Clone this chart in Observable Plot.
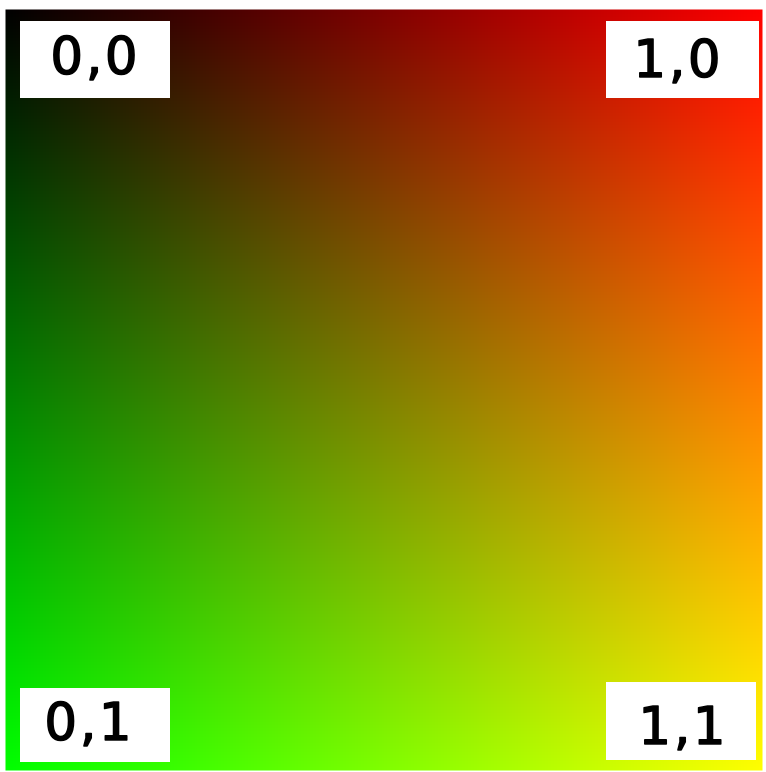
<!DOCTYPE html>
<html>
<head>
<meta charset="utf-8">
<script src="https://cdn.jsdelivr.net/npm/d3@7"></script>
<script src="https://cdn.jsdelivr.net/npm/@observablehq/plot@0.6"></script>
<style>
  html, body { margin: 0; padding: 0; background: #fff; }
  #chart svg text { letter-spacing: 3px; }
</style>
</head>
<body>
<div id="chart"></div>
<script>
// Corner data: position in the unit square and the colour at that corner
const cornerLabels = ["0,0", "1,0", "0,1", "1,1"];
const cornerX = [0, 1, 0, 1];
const cornerY = [0, 0, 1, 1];
const cornerRed = [0, 255, 0, 255];
const cornerGreen = [0, 0, 255, 255];
const cornerBlue = [0, 0, 0, 0];

const corners = cornerLabels.map((label, i) => ({
  label, x: cornerX[i], y: cornerY[i],
  r: cornerRed[i], g: cornerGreen[i], b: cornerBlue[i]
}));

// bilinear blend of the four corner colours
function colourAt(x, y) {
  const c = corners;
  const mix = (k) =>
    (1 - x) * (1 - y) * c[0][k] + x * (1 - y) * c[1][k] +
    (1 - x) * y * c[2][k] + x * y * c[3][k];
  return `rgb(${Math.round(mix("r"))},${Math.round(mix("g"))},${Math.round(mix("b"))})`;
}

// label box placement (pixel insets from each corner)
const boxStyle = [
  {insetLeft: 15, insetRight: -165, insetTop: 12, insetBottom: -89, dx: 90, dy: 48},
  {insetLeft: -156, insetRight: 3, insetTop: 12, insetBottom: -89, dx: -84, dy: 51},
  {insetLeft: 15, insetRight: -165, insetTop: -82, insetBottom: 8, dx: 84, dy: -47},
  {insetLeft: -156, insetRight: 6, insetTop: -88, insetBottom: 10, dx: -79, dy: -43}
];

const marks = [
  Plot.raster({
    x1: 0, x2: 1, y1: 0, y2: 1,
    fill: (x, y) => colourAt(x, y),
    pixelSize: 1
  })
];

corners.forEach((d, i) => {
  const s = boxStyle[i];
  marks.push(Plot.rect([d], {
    x1: "x", x2: "x", y1: "y", y2: "y",
    fill: "white",
    insetLeft: s.insetLeft, insetRight: s.insetRight,
    insetTop: s.insetTop, insetBottom: s.insetBottom
  }));
  marks.push(Plot.text([d], {
    x: "x", y: "y", text: "label",
    dx: s.dx, dy: s.dy,
    fill: "black",
    stroke: "black",
    strokeWidth: 1.6,
    fontSize: 51,
    textAnchor: "middle",
    lineAnchor: "middle"
  }));
});

const chart = Plot.plot({
  width: 766,
  height: 772,
  marginLeft: 5,
  marginRight: 4,
  marginTop: 9,
  marginBottom: 2,
  x: {domain: [0, 1], axis: null},
  y: {domain: [0, 1], reverse: true, axis: null},
  color: {type: "identity"},
  style: {fontFamily: "DejaVu Sans", background: "white", overflow: "visible"},
  marks
});

document.getElementById("chart").appendChild(chart);
</script>
</body>
</html>
